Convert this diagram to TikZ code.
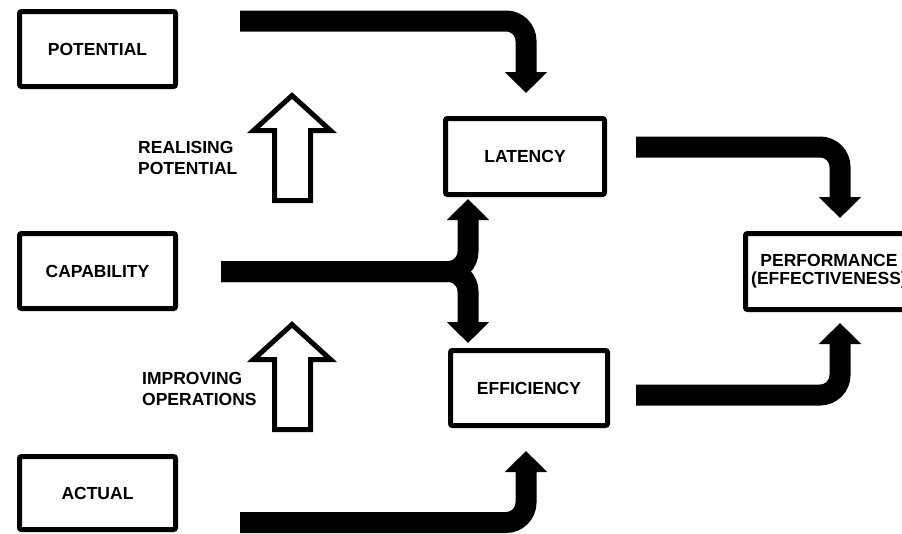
\documentclass[tikz,border=0pt]{standalone}
\usepackage{fontspec}
\setmainfont{Liberation Sans}
\usetikzlibrary{arrows.meta,calc}
\begin{document}
\begin{tikzpicture}[x=1pt,y=-1pt,
  box/.style={draw,line width=5pt,rounded corners=2pt,minimum width=156pt,minimum height=75pt,inner sep=0pt,font=\bfseries\fontsize{17.5}{18}\selectfont,align=center},
  fat/.style={line width=21pt,rounded corners=20pt,-{Triangle[width=41pt,length=21pt]}},
  hollow/.style={draw,line width=5pt,fill=white,miter limit=10},
  lbl/.style={font=\bfseries\fontsize{17.5}{21}\selectfont,align=left,inner sep=0pt,anchor=west}]
\useasboundingbox (0,0) rectangle (902,533);
\fill[white] (0,0) rectangle (902,533);
\clip (0,0) rectangle (902,533);

% boxes
\node[box] (pot) at (97.5,49) {POTENTIAL};
\node[box] (cap) at (97.5,271) {CAPABILITY};
\node[box,minimum height=73pt] (act) at (97.5,493) {ACTUAL};
\node[box,minimum width=159pt,minimum height=76pt] (lat) at (525,156.5) {LATENCY};
\node[box,minimum width=157pt] (eff) at (529,388) {EFFICIENCY};
\node[box,minimum width=167pt,minimum height=76pt] (perf) at (829,271.5) {PERFORMANCE\\(EFFECTIVENESS)};

% labels
\node[lbl] (realise) at (138,158) {REALISING\\POTENTIAL};
\node[lbl] (improve) at (142,389) {IMPROVING\\OPERATIONS};

% hollow arrows
\draw[hollow] (292,95.5) -- ++(38.5,35) -- ++(-20,0) -- ++(0,70) -- ++(-36,0) -- ++(0,-70) -- ++(-21,0) -- cycle;
\draw[hollow] (292,324.5) -- ++(38.5,35) -- ++(-20,0) -- ++(0,70) -- ++(-36,0) -- ++(0,-70) -- ++(-21,0) -- cycle;

% connector end points
\coordinate (s1) at ($(pot.east)+(62,-28)$);
\coordinate (e1) at ($(lat.north)+(1,-23)$);
\coordinate (s2) at ($(lat.east)+(29,-9.5)$);
\coordinate (e2) at ($(perf.north)+(11,-13)$);
\coordinate (s3) at ($(eff.east)+(26,7)$);
\coordinate (e3) at ($(perf.south)+(11,11)$);
\coordinate (s4) at ($(act.east)+(62,29.5)$);
\coordinate (e4) at ($(eff.south)+(-3,23)$);
\coordinate (s5) at ($(cap.east)+(43,0.5)$);
\coordinate (e5) at ($(lat.south)+(-57,2)$);
\coordinate (e6) at ($(eff.north)+(-61,-5)$);

% thick arrows
\draw[fat] (s1) -| (e1);
\draw[fat] (s2) -| (e2);
\draw[fat] (s3) -| (e3);
\draw[fat] (s4) -| (e4);
\draw[fat] (s5) -| (e5);
\draw[fat] (s5) -| (e6);
\end{tikzpicture}
\end{document}
